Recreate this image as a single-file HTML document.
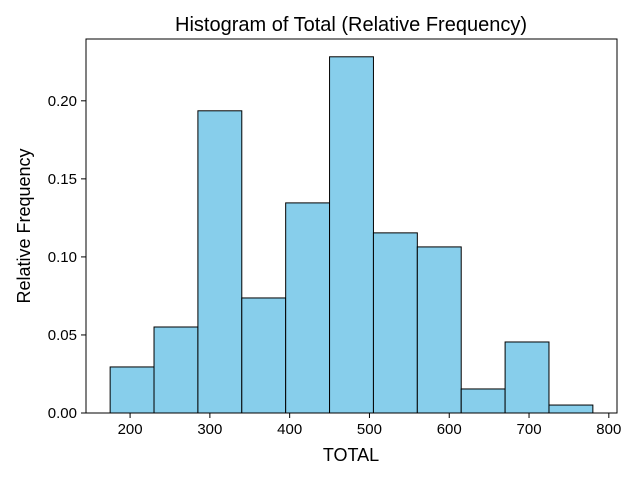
<!DOCTYPE html>
<html><head><meta charset="utf-8"><style>
body{margin:0;background:#fff;}
svg text{font-family:"Liberation Sans",sans-serif;}
</style></head><body>
<svg id="chart" width="640" height="480" xmlns="http://www.w3.org/2000/svg">
<rect width="640" height="480" fill="#fff"/>
<text x="351" y="31" font-size="20" text-anchor="middle">Histogram of Total (Relative Frequency)</text>
<g id="bars"></g>
<g id="xticks"></g>
<g id="yticks"></g>
<rect x="86" y="39" width="531" height="374" fill="none" stroke="#000" stroke-width="1"/>
<text x="351" y="461" font-size="18" text-anchor="middle">TOTAL</text>
<text x="30" y="226" font-size="18" text-anchor="middle" transform="rotate(-90 30 226)">Relative Frequency</text>
</svg>
<script>
const binStart = 175;
const binWidth = 55;
const freqs = [0.0295,0.0551,0.1936,0.0737,0.1346,0.2282,0.1154,0.1064,0.0154,0.0455,0.0051];
const xTickValues = [200,300,400,500,600,700,800];
const yTickValues = [0,0.05,0.10,0.15,0.20];
const yTickLabels = ["0.00","0.05","0.10","0.15","0.20"];

const L=86,R=617,T=39,B=413;
const xmin=144.75,xmax=810.25,ymin=0,ymax=0.2396;
const xs=v=>L+(v-xmin)/(xmax-xmin)*(R-L);
const ys=v=>B-(v-ymin)/(ymax-ymin)*(B-T);
const NS="http://www.w3.org/2000/svg";
const bars=document.getElementById('bars');
freqs.forEach((f,i)=>{
  const x0=xs(binStart+i*binWidth), x1=xs(binStart+(i+1)*binWidth);
  const r=document.createElementNS(NS,'rect');
  r.setAttribute('x',x0);r.setAttribute('y',ys(f));
  r.setAttribute('width',x1-x0);r.setAttribute('height',ys(0)-ys(f));
  r.setAttribute('fill','#87ceeb');r.setAttribute('stroke','#000');r.setAttribute('stroke-width','1');
  
  
  bars.appendChild(r);
});
const xg=document.getElementById('xticks');
xTickValues.forEach(v=>{
  const x=xs(v);
  const l=document.createElementNS(NS,'line');
  l.setAttribute('x1',x);l.setAttribute('x2',x);l.setAttribute('y1',B);l.setAttribute('y2',B+5);l.setAttribute('stroke','#000');
  
  
  xg.appendChild(l);
  const t=document.createElementNS(NS,'text');
  t.setAttribute('x',x);t.setAttribute('y',B+21);t.setAttribute('font-size','15');t.setAttribute('text-anchor','middle');
  t.textContent=v;
  
  
  xg.appendChild(t);
});
const yg=document.getElementById('yticks');
yTickValues.forEach((v,i)=>{
  const y=ys(v);
  const l=document.createElementNS(NS,'line');
  l.setAttribute('x1',L-5);l.setAttribute('x2',L);l.setAttribute('y1',y);l.setAttribute('y2',y);l.setAttribute('stroke','#000');
  
  
  yg.appendChild(l);
  const t=document.createElementNS(NS,'text');
  t.setAttribute('x',L-9);t.setAttribute('y',y+5);t.setAttribute('font-size','15');t.setAttribute('text-anchor','end');
  t.textContent=yTickLabels[i];
  
  
  yg.appendChild(t);
});
</script>
</body></html>
